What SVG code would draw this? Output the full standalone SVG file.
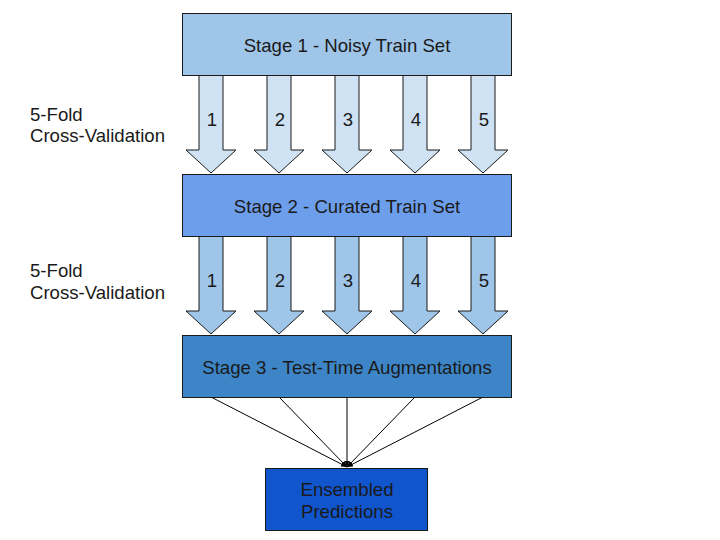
<svg xmlns="http://www.w3.org/2000/svg" width="720" height="540" viewBox="0 0 720 540">
<defs>
<style>
.box{stroke:#1a1a1a;stroke-width:1}
.t{font-family:"Liberation Sans",Arial,sans-serif;font-size:18.6px;fill:#1a1a1a;text-anchor:middle;dominant-baseline:central}
.l{font-family:"Liberation Sans",Arial,sans-serif;font-size:18.6px;fill:#1a1a1a}
.a1{fill:#cfe2f3;stroke:#1a1a1a;stroke-width:1}
.a2{fill:#9fc5e8;stroke:#1a1a1a;stroke-width:1}
.ln{stroke:#000;stroke-width:1;fill:none}
</style>
<marker id="ah" viewBox="0 0 10 10" refX="10" refY="5" markerWidth="6" markerHeight="6" orient="auto"><path d="M0,1 L10,5 L0,9 z" fill="#000"/></marker>
<path id="arr" d="M-12,0 L12,0 L12,75 L25,75 L0,98 L-25,75 L-12,75 z"/>
</defs>
<rect width="720" height="540" fill="#fff"/>
<g id="label1"><text class="l" x="30" y="121">5-Fold</text><text class="l" x="30" y="142">Cross-Validation</text></g>
<g id="label2"><text class="l" x="30" y="277">5-Fold</text><text class="l" x="30" y="299">Cross-Validation</text></g>
<g id="connectors">
<g id="folds1">
<use href="#arr" class="a1" x="211" y="75"/><use href="#arr" class="a1" x="279" y="75"/><use href="#arr" class="a1" x="347" y="75"/><use href="#arr" class="a1" x="415" y="75"/><use href="#arr" class="a1" x="483" y="75"/>
<text class="t" x="212" y="119">1</text><text class="t" x="280" y="119">2</text><text class="t" x="348" y="119">3</text><text class="t" x="416" y="119">4</text><text class="t" x="484" y="119">5</text>
</g>
<g id="folds2">
<use href="#arr" class="a2" x="211" y="236"/><use href="#arr" class="a2" x="279" y="236"/><use href="#arr" class="a2" x="347" y="236"/><use href="#arr" class="a2" x="415" y="236"/><use href="#arr" class="a2" x="483" y="236"/>
<text class="t" x="212" y="280">1</text><text class="t" x="280" y="280">2</text><text class="t" x="348" y="280">3</text><text class="t" x="416" y="280">4</text><text class="t" x="484" y="280">5</text>
</g>
<g id="ensemble-lines">
<line class="ln" x1="211" y1="397" x2="347" y2="467" marker-end="url(#ah)"/>
<line class="ln" x1="279" y1="397" x2="347" y2="467" marker-end="url(#ah)"/>
<line class="ln" x1="347" y1="397" x2="347" y2="467" marker-end="url(#ah)"/>
<line class="ln" x1="415" y1="397" x2="347" y2="467" marker-end="url(#ah)"/>
<line class="ln" x1="483" y1="397" x2="347" y2="467" marker-end="url(#ah)"/>
</g>
</g>
<g id="stage1"><rect class="box" x="182.5" y="13.5" width="329" height="62" fill="#9fc5e8"/><text class="t" x="347" y="45">Stage 1 - Noisy Train Set</text></g>
<g id="stage2"><rect class="box" x="182.5" y="174.5" width="329" height="62" fill="#6d9eeb"/><text class="t" x="347" y="206">Stage 2 - Curated Train Set</text></g>
<g id="stage3"><rect class="box" x="182.5" y="335.5" width="329" height="62" fill="#3d85c6"/><text class="t" x="347" y="367">Stage 3 - Test-Time Augmentations</text></g>
<g id="ensembled"><rect class="box" x="265.5" y="468.5" width="162" height="62" fill="#1155cc"/><text class="t" x="347" y="489">Ensembled</text><text class="t" x="347" y="511">Predictions</text></g>
</svg>
